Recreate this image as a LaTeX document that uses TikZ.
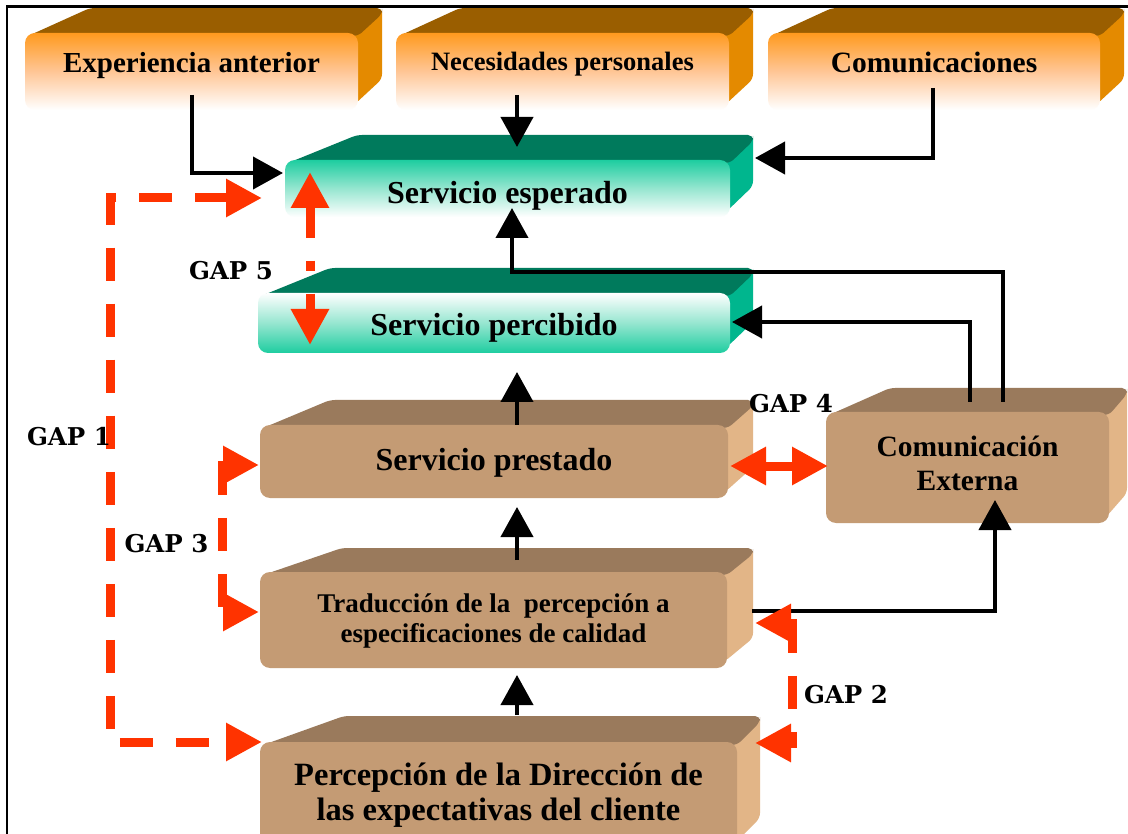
\documentclass[tikz,border=0pt]{standalone}
\usepackage{fontspec}
\setmainfont{Liberation Serif}
\newfontfamily\gapfont{DejaVu Serif}
\usetikzlibrary{arrows.meta}
\definecolor{orfront}{RGB}{255,154,30}
\definecolor{ormid}{RGB}{255,198,150}
\definecolor{ortop}{RGB}{154,94,0}
\definecolor{orside}{RGB}{228,138,0}
\definecolor{grfront}{RGB}{30,205,160}
\definecolor{grmid}{RGB}{150,230,208}
\definecolor{grtop}{RGB}{0,122,92}
\definecolor{grside}{RGB}{0,182,142}
\definecolor{brfront}{RGB}{196,155,116}
\definecolor{brtop}{RGB}{154,122,92}
\definecolor{brside}{RGB}{226,181,135}
\definecolor{gapred}{RGB}{255,51,0}
\newcommand{\myfs}[1]{\fontsize{#1}{#1}\selectfont\bfseries}
\newcommand{\lift}[2]{\raisebox{#1}[0pt][0pt]{#2}}
% size, line distance, line 1, line 2
\newcommand{\twolines}[4]{\fontsize{#1}{#2}\selectfont\begin{tabular}{@{}c@{}}#3\\#4\end{tabular}}
% x1 y1 x2 y2 backleftx dx dy topcolor sidecolor
\newcommand{\boxsides}[9]{%
  \fill[#9,rounded corners=5pt] ({#3-3},{#2}) -- ({#3+#6},{#2-#7}) -- ({#3+#6},{#4-#7-6}) -- ({#3-3},{#4-6}) -- cycle;
  \fill[#8,rounded corners=5pt] ({#1+3},{#2+3}) -- (#5,{#2-#7}) -- ({#3+#6},{#2-#7}) -- ({#3+#6},{#2-#7+6}) -- ({#3},{#2+3}) -- cycle;
}
\begin{document}
\begin{tikzpicture}[x=1pt,y=-1pt,
  front/.style={rounded corners=10pt, inner sep=0pt, draw=none, align=center},
  blk/.style={line width=4pt, black, -{Triangle[length=30pt,width=32pt]}},
  rtip/.tip={Triangle[length=36pt,width=36pt]},
  gapline/.style={line width=9pt, draw=gapred, dash pattern=on 33pt off 23pt},
  gapsolid/.style={line width=9pt, draw=gapred},
  gaplbl/.style={font=\gapfont\bfseries\fontsize{24.5}{24.5}\selectfont, inner sep=0pt}]
\useasboundingbox (0,0) rectangle (1128,834);
\fill[white] (0,0) rectangle (1128,834);

% top orange boxes
\boxsides{25}{33}{358}{110}{90}{24}{25}{ortop}{orside}
\node[front, top color=orfront, bottom color=white, middle color=ormid, minimum width=333pt, minimum height=77pt, font=\myfs{29}] (exp) at (191.5,71.5) {\lift{-1.5pt}{Experiencia anterior}};
\boxsides{396}{33}{729}{110}{460}{24}{25}{ortop}{orside}
\node[front, top color=orfront, bottom color=white, middle color=ormid, minimum width=333pt, minimum height=77pt, font=\myfs{26.5}] (nec) at (562.5,71.5) {\lift{0.5pt}{Necesidades personales}};
\boxsides{768}{33}{1100}{110}{832}{24}{25}{ortop}{orside}
\node[front, top color=orfront, bottom color=white, middle color=ormid, minimum width=332pt, minimum height=77pt, font=\myfs{29.5}] (com) at (934,71.5) {\lift{-1.5pt}{Comunicaciones}};

% green boxes
\boxsides{285}{160}{730}{217}{357}{23}{25}{grtop}{grside}
\node[front, top color=grfront, bottom color=white, middle color=grmid, minimum width=445pt, minimum height=57pt, font=\myfs{32}] (esp) at (507.5,188.5) {\lift{-15.5pt}{Servicio esperado}};
\boxsides{258}{293}{730}{353}{330}{23}{25}{grtop}{grside}
\node[front, top color=white, bottom color=grfront, middle color=grmid, minimum width=472pt, minimum height=60pt, font=\myfs{32}] (per) at (494,323) {\lift{-13pt}{Servicio percibido}};

% brown boxes
\boxsides{260}{425}{728}{498}{330}{25}{25}{brtop}{brside}
\node[front, fill=brfront, minimum width=468pt, minimum height=73pt, font=\myfs{32}] (pre) at (494,461.5) {\lift{-8.5pt}{Servicio prestado}};
\boxsides{826}{412}{1109}{523}{890}{18}{24}{brtop}{brside}
\node[front, fill=brfront, minimum width=283pt, minimum height=111pt, font=\myfs{29.5}] (ext) at (967.5,467.5) {\lift{-5pt}{\twolines{29.5}{34}{Comunicación}{Externa}}};
\boxsides{260}{572}{727}{668}{342}{26}{24}{brtop}{brside}
\node[front, fill=brfront, minimum width=467pt, minimum height=96pt, font=\myfs{27}] (tra) at (493.5,620) {\lift{-7.5pt}{\twolines{27}{30}{Traducción de la~ percepción a}{especificaciones de calidad}}};
\boxsides{260}{742}{737}{850}{344}{23}{26}{brtop}{brside}
\node[front, fill=brfront, minimum width=477pt, minimum height=108pt, font=\myfs{32.5}] (perc) at (498.5,796) {\lift{-6pt}{\twolines{32.5}{35}{Percepción de la Dirección de}{las expectativas del cliente}}};

% frame
\draw[line width=2.5pt] (7,834) -- (7,6.5) -- (1128,6.5);

% connector end points
\coordinate (b1s) at (192,95);   \coordinate (b1e) at (283,173);
\coordinate (b2s) at (517,95);   \coordinate (b2e) at (517,147);
\coordinate (b3s) at (933,88);   \coordinate (b3e) at (755,158);
\coordinate (b4s) at (1003,402); \coordinate (b4m) at (512,272); \coordinate (b4e) at (512,208);
\coordinate (b5s) at (970,402);  \coordinate (b5e) at (732,322);
\coordinate (b6s) at (517,425);  \coordinate (b6e) at (517,372);
\coordinate (b7s) at (517,560);  \coordinate (b7e) at (517,507);
\coordinate (b8s) at (517,715);  \coordinate (b8e) at (517,675);
\coordinate (b9s) at (752,611);  \coordinate (b9e) at (995,500);

% black connectors
\draw[blk] (b1s) |- (b1e);
\draw[blk] (b2s) -- (b2e);
\draw[blk] (b3s) |- (b3e);
\draw[blk] (b4s) |- (b4m) -- (b4e);
\draw[blk] (b5s) |- (b5e);
\draw[blk] (b6s) -- (b6e);
\draw[blk] (b7s) -- (b7e);
\draw[blk] (b8s) -- (b8e);
\draw[blk] (b9s) -| (b9e);

% red gap connectors
\coordinate (g1a) at (262,198); \coordinate (g1b) at (110,198); \coordinate (g1c) at (110,742); \coordinate (g1d) at (262,742);
\draw[gapline, rtip-rtip] (g1a) -- (g1b) -- (g1c) -- (g1d);
\coordinate (g5a) at (310,172); \coordinate (g5b) at (310,345);
\draw[gapline, dash pattern=on 32pt off 23pt on 10pt off 23pt, rtip-rtip] (g5a) -- (g5b);
\coordinate (g3a) at (259,465); \coordinate (g3b) at (222,465); \coordinate (g3c) at (222,612); \coordinate (g3d) at (259,612);
\draw[gapline, rtip-rtip] (g3a) -- (g3b) -- (g3c) -- (g3d);
\coordinate (g4a) at (730,466); \coordinate (g4b) at (828,466);
\draw[gapsolid, rtip-rtip] (g4a) -- (g4b);
\coordinate (g2a) at (755,623); \coordinate (g2b) at (792,623); \coordinate (g2c) at (792,743); \coordinate (g2d) at (755,743);
\draw[gapline, rtip-rtip] (g2a) -- (g2b) -- (g2c) -- (g2d);

% gap labels
\node[gaplbl] (gap5) at (231,271) {GAP 5};
\node[gaplbl] (gap1) at (69,437) {GAP 1};
\node[gaplbl] (gap3) at (166.5,544) {GAP 3};
\node[gaplbl] (gap4) at (791,404) {GAP 4};
\node[gaplbl] (gap2) at (846,695) {GAP 2};
\end{tikzpicture}
\end{document}
